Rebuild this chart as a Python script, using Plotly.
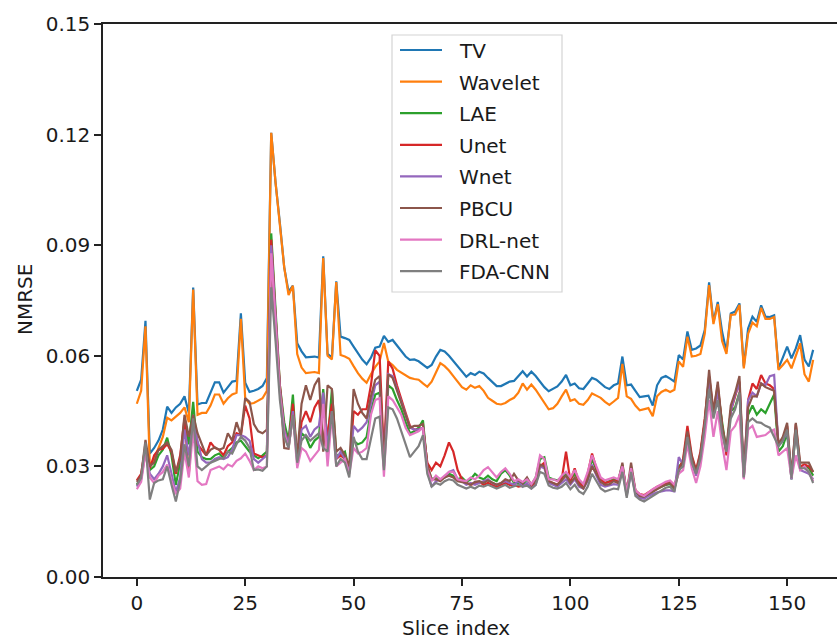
import plotly.graph_objects as go

slice_index = list(range(157))

tv = [0.0505,0.0535,0.0695,0.0335,0.035,0.037,0.040,0.0462,0.0445,0.046,
      0.047,0.049,0.0445,0.0785,0.0468,0.0472,0.0472,0.050,0.0528,0.0528,
      0.050,0.0515,0.053,0.0532,0.0715,0.0527,0.0502,0.0505,0.051,0.0518,
      0.054,0.1205,0.107,0.096,0.084,0.0774,0.079,0.0634,0.0612,0.0596,
      0.0598,0.0598,0.0595,0.087,0.0605,0.0595,0.0802,0.0652,0.0648,0.0643,
      0.0625,0.0607,0.059,0.0577,0.0595,0.0622,0.0625,0.0654,0.0638,0.0643,
      0.0628,0.0610,0.0598,0.0589,0.0590,0.0585,0.0575,0.0567,0.0575,0.0598,
      0.0616,0.0612,0.0600,0.0585,0.057,0.0555,0.0543,0.0553,0.0548,0.0557,
      0.0552,0.0540,0.0528,0.0518,0.0518,0.0525,0.0530,0.0532,0.0545,0.0558,
      0.0544,0.0557,0.0545,0.0530,0.0515,0.0504,0.0510,0.0517,0.0530,0.0548,
      0.0520,0.0525,0.0512,0.0510,0.0525,0.0540,0.0535,0.0525,0.0515,0.0510,
      0.0520,0.0525,0.0598,0.0520,0.0522,0.0505,0.0488,0.0490,0.0492,0.0465,
      0.0520,0.0540,0.0545,0.0538,0.0530,0.0602,0.0590,0.0666,0.0616,0.0620,
      0.0628,0.0670,0.0799,0.0692,0.0746,0.0665,0.0611,0.0715,0.0720,0.0742,
      0.0571,0.0674,0.0706,0.0692,0.0737,0.0706,0.0705,0.0710,0.0566,0.0595,
      0.0625,0.0593,0.0620,0.0656,0.0590,0.0571,0.0616]

wavelet = [0.047,0.0505,0.068,0.030,0.032,0.035,0.038,0.0432,0.0425,0.0435,
           0.0445,0.046,0.042,0.078,0.044,0.0445,0.0445,0.0465,0.0495,0.0495,
           0.047,0.0485,0.0495,0.050,0.070,0.0485,0.047,0.0472,0.0478,0.0485,
           0.0505,0.1205,0.107,0.096,0.084,0.0765,0.079,0.0605,0.0568,0.0553,
           0.0555,0.0556,0.0553,0.0865,0.0600,0.059,0.080,0.0602,0.0598,0.0592,
           0.0572,0.0553,0.0538,0.0527,0.055,0.057,0.0585,0.0635,0.0584,0.0575,
           0.0562,0.0555,0.0547,0.054,0.0537,0.0535,0.0525,0.0516,0.053,0.0555,
           0.058,0.0572,0.056,0.0545,0.053,0.0515,0.0508,0.052,0.0513,0.0518,
           0.0505,0.0486,0.0478,0.0470,0.0468,0.0472,0.0480,0.0486,0.0500,0.0525,
           0.0508,0.0522,0.0508,0.0490,0.0472,0.0455,0.0458,0.0470,0.0490,0.0508,
           0.0478,0.0482,0.0470,0.0467,0.0480,0.0498,0.0492,0.0486,0.0475,0.0467,
           0.0476,0.0486,0.0578,0.0490,0.0483,0.0465,0.0452,0.0455,0.0458,0.0436,
           0.0490,0.0502,0.0508,0.0502,0.0508,0.0585,0.0570,0.0652,0.0598,0.0600,
           0.0605,0.0660,0.0792,0.0686,0.0740,0.0640,0.0605,0.0711,0.0712,0.0738,
           0.0566,0.0660,0.0690,0.0680,0.0730,0.0700,0.0700,0.0705,0.0562,0.0575,
           0.0589,0.0566,0.0600,0.0634,0.0550,0.0530,0.0589]

lae = [0.0250,0.0272,0.0345,0.0290,0.0300,0.0330,0.0345,0.0378,0.0330,0.0250,
       0.0310,0.0420,0.0360,0.0475,0.0340,0.0325,0.0320,0.0320,0.0330,0.0335,
       0.0322,0.0340,0.0350,0.0365,0.0370,0.0355,0.0340,0.0330,0.0322,0.0330,
       0.0340,0.0932,0.0720,0.0520,0.0420,0.0370,0.0495,0.0310,0.0390,0.0380,
       0.0350,0.0370,0.0380,0.0510,0.0360,0.0510,0.0330,0.0330,0.0340,0.0290,
       0.0370,0.0360,0.0365,0.0380,0.0450,0.0495,0.0500,0.0300,0.0520,0.0510,
       0.0480,0.0455,0.0420,0.0390,0.0395,0.0405,0.0425,0.0300,0.0265,0.0270,
       0.0265,0.0270,0.0280,0.0275,0.0265,0.0270,0.0258,0.0265,0.0280,0.0270,
       0.0265,0.0275,0.0265,0.0260,0.0280,0.0290,0.0275,0.0255,0.0255,0.0250,
       0.0265,0.0250,0.0270,0.0320,0.0325,0.0270,0.0265,0.0262,0.0270,0.0280,
       0.0265,0.0280,0.0260,0.0250,0.0275,0.0320,0.0290,0.0265,0.0255,0.0260,
       0.0265,0.0260,0.0305,0.0225,0.0290,0.0230,0.0220,0.0215,0.0225,0.0232,
       0.0240,0.0245,0.0250,0.0252,0.0240,0.0300,0.0310,0.0390,0.0320,0.0280,
       0.0330,0.0420,0.0540,0.0440,0.0510,0.0420,0.0340,0.0450,0.0460,0.0500,
       0.0270,0.0440,0.0465,0.0440,0.0455,0.0445,0.0470,0.0495,0.0340,0.0355,
       0.0390,0.0265,0.0400,0.0295,0.0300,0.0295,0.0275]

unet = [0.0262,0.0280,0.0355,0.0295,0.0330,0.0345,0.0348,0.0360,0.0340,0.0280,
        0.0330,0.0430,0.0280,0.0430,0.0360,0.0345,0.0330,0.0365,0.0350,0.0345,
        0.0330,0.0355,0.0365,0.0390,0.0385,0.0465,0.0430,0.0335,0.0330,0.0325,
        0.0330,0.0915,0.0710,0.0520,0.0400,0.0360,0.0470,0.0320,0.0420,0.0450,
        0.0420,0.0460,0.0480,0.0370,0.0390,0.0470,0.0320,0.0330,0.0320,0.0290,
        0.0450,0.0440,0.0455,0.0455,0.0520,0.0615,0.0600,0.0330,0.0585,0.0565,
        0.0520,0.0480,0.0445,0.0410,0.0400,0.0400,0.0405,0.0310,0.0290,0.0310,
        0.0300,0.0330,0.0365,0.0340,0.0290,0.0265,0.0255,0.0250,0.0255,0.0258,
        0.0250,0.0255,0.0250,0.0245,0.0250,0.0255,0.0250,0.0250,0.0245,0.0248,
        0.0250,0.0245,0.0255,0.0300,0.0310,0.0260,0.0255,0.0250,0.0265,0.0340,
        0.0260,0.0295,0.0255,0.0245,0.0280,0.0335,0.0295,0.0265,0.0255,0.0258,
        0.0262,0.0258,0.0300,0.0230,0.0295,0.0235,0.0225,0.0222,0.0230,0.0238,
        0.0245,0.0250,0.0255,0.0258,0.0245,0.0290,0.0320,0.0410,0.0330,0.0290,
        0.0340,0.0430,0.0545,0.0450,0.0520,0.0410,0.0330,0.0450,0.0490,0.0530,
        0.0275,0.0480,0.0525,0.0510,0.0548,0.0525,0.0520,0.0510,0.0360,0.0375,
        0.0410,0.0270,0.0415,0.0300,0.0305,0.0300,0.0285]

wnet = [0.0245,0.0265,0.0340,0.0280,0.0265,0.0280,0.0300,0.0330,0.0280,0.0230,
        0.0270,0.0400,0.0330,0.0420,0.0370,0.0320,0.0310,0.0310,0.0320,0.0325,
        0.0320,0.0325,0.0345,0.0385,0.0385,0.0380,0.0370,0.0320,0.0310,0.0320,
        0.0330,0.0900,0.0700,0.0510,0.0400,0.0360,0.0450,0.0320,0.0400,0.0410,
        0.0380,0.0400,0.0410,0.0500,0.0350,0.0450,0.0320,0.0340,0.0320,0.0290,
        0.0410,0.0395,0.0405,0.0420,0.0470,0.0520,0.0530,0.0300,0.0550,0.0545,
        0.0510,0.0475,0.0440,0.0405,0.0400,0.0400,0.0405,0.0290,0.0245,0.0260,
        0.0265,0.0270,0.0285,0.0290,0.0265,0.0260,0.0250,0.0255,0.0250,0.0255,
        0.0260,0.0265,0.0255,0.0250,0.0255,0.0260,0.0255,0.0250,0.0260,0.0245,
        0.0255,0.0240,0.0250,0.0300,0.0295,0.0255,0.0250,0.0245,0.0255,0.0265,
        0.0250,0.0265,0.0245,0.0240,0.0260,0.0305,0.0275,0.0250,0.0245,0.0248,
        0.0252,0.0250,0.0290,0.0220,0.0285,0.0225,0.0215,0.0212,0.0220,0.0225,
        0.0230,0.0232,0.0235,0.0235,0.0232,0.0325,0.0305,0.0380,0.0310,0.0275,
        0.0320,0.0410,0.0530,0.0440,0.0505,0.0400,0.0340,0.0450,0.0495,0.0525,
        0.0270,0.0480,0.0500,0.0490,0.0525,0.0520,0.0545,0.0548,0.0355,0.0370,
        0.0395,0.0265,0.0405,0.0290,0.0285,0.0280,0.0265]

pbcu = [0.0258,0.0275,0.0372,0.0300,0.0310,0.0345,0.0355,0.0365,0.0345,0.0285,
        0.0320,0.0440,0.0380,0.0440,0.0390,0.0360,0.0330,0.0345,0.0352,0.0345,
        0.0350,0.0390,0.0370,0.0420,0.0385,0.0485,0.0475,0.0415,0.0395,0.0390,
        0.0400,0.0840,0.0680,0.0500,0.0350,0.0348,0.0440,0.0330,0.0470,0.0520,
        0.0480,0.0520,0.0540,0.0340,0.0520,0.0510,0.0340,0.0350,0.0330,0.0300,
        0.0510,0.0470,0.0445,0.0430,0.0490,0.0535,0.0545,0.0310,0.0550,0.0540,
        0.0505,0.0475,0.0440,0.0405,0.0410,0.0410,0.0415,0.0305,0.0265,0.0265,
        0.0260,0.0270,0.0275,0.0270,0.0260,0.0258,0.0255,0.0250,0.0258,0.0260,
        0.0255,0.0262,0.0255,0.0250,0.0255,0.0265,0.0260,0.0280,0.0262,0.0255,
        0.0270,0.0250,0.0262,0.0305,0.0300,0.0260,0.0255,0.0250,0.0262,0.0275,
        0.0255,0.0270,0.0250,0.0240,0.0265,0.0300,0.0280,0.0258,0.0250,0.0252,
        0.0260,0.0255,0.0310,0.0225,0.0310,0.0235,0.0220,0.0218,0.0225,0.0232,
        0.0240,0.0245,0.0250,0.0255,0.0240,0.0285,0.0315,0.0395,0.0325,0.0285,
        0.0335,0.0420,0.0562,0.0445,0.0530,0.0410,0.0350,0.0465,0.0500,0.0545,
        0.0280,0.0460,0.0490,0.0490,0.0525,0.0515,0.0510,0.0505,0.0360,0.0380,
        0.0418,0.0275,0.0418,0.0310,0.0310,0.0310,0.0285]

drl_net = [0.0238,0.0258,0.0335,0.0270,0.0255,0.0275,0.0285,0.0305,0.0260,0.0225,
           0.0240,0.0340,0.0270,0.0400,0.0260,0.0250,0.0252,0.0290,0.0295,0.0300,
           0.0292,0.0305,0.0300,0.0315,0.0322,0.0335,0.0315,0.0290,0.0300,0.0295,
           0.0300,0.0878,0.0690,0.0500,0.0390,0.0350,0.0440,0.0295,0.0350,0.0340,
           0.0315,0.0330,0.0345,0.0470,0.0300,0.0440,0.0300,0.0310,0.0320,0.0280,
           0.0350,0.0335,0.0340,0.0350,0.0440,0.0480,0.0485,0.0272,0.0490,0.0480,
           0.0460,0.0440,0.0405,0.0385,0.0390,0.0395,0.0405,0.0290,0.0260,0.0275,
           0.0265,0.0275,0.0285,0.0285,0.0265,0.0262,0.0260,0.0270,0.0265,0.0275,
           0.0290,0.0298,0.0285,0.0270,0.0285,0.0295,0.0280,0.0260,0.0265,0.0258,
           0.0265,0.0252,0.0270,0.0330,0.0320,0.0265,0.0265,0.0260,0.0275,0.0285,
           0.0270,0.0290,0.0265,0.0252,0.0285,0.0330,0.0300,0.0270,0.0262,0.0265,
           0.0270,0.0265,0.0300,0.0230,0.0295,0.0235,0.0225,0.0220,0.0230,0.0238,
           0.0245,0.0252,0.0258,0.0262,0.0250,0.0280,0.0290,0.0360,0.0295,0.0255,
           0.0300,0.0380,0.0480,0.0380,0.0450,0.0360,0.0290,0.0395,0.0410,0.0440,
           0.0265,0.0400,0.0410,0.0380,0.0382,0.0385,0.0395,0.0400,0.0330,0.0340,
           0.0350,0.0268,0.0330,0.0290,0.0300,0.0285,0.0260]

fda_cnn = [0.0250,0.0268,0.0365,0.0210,0.0255,0.0262,0.0265,0.0300,0.0250,0.0205,
           0.0260,0.0360,0.0300,0.0430,0.0300,0.0290,0.0300,0.0310,0.0315,0.0320,
           0.0322,0.0340,0.0335,0.0360,0.0380,0.0370,0.0350,0.0290,0.0292,0.0288,
           0.0300,0.0786,0.0640,0.0480,0.0380,0.0350,0.0440,0.0310,0.0370,0.0385,
           0.0370,0.0380,0.0390,0.0350,0.0340,0.0450,0.0300,0.0320,0.0310,0.0270,
           0.0380,0.0340,0.0320,0.0320,0.0380,0.0430,0.0435,0.0290,0.0460,0.0455,
           0.0430,0.0395,0.0355,0.0325,0.0340,0.0355,0.0385,0.0280,0.0245,0.0255,
           0.0250,0.0260,0.0265,0.0262,0.0250,0.0245,0.0240,0.0245,0.0240,0.0248,
           0.0245,0.0250,0.0245,0.0240,0.0245,0.0250,0.0242,0.0245,0.0250,0.0245,
           0.0248,0.0240,0.0250,0.0285,0.0280,0.0248,0.0242,0.0240,0.0245,0.0255,
           0.0238,0.0250,0.0232,0.0225,0.0245,0.0280,0.0260,0.0240,0.0232,0.0235,
           0.0240,0.0238,0.0285,0.0215,0.0285,0.0220,0.0210,0.0205,0.0212,0.0220,
           0.0228,0.0235,0.0242,0.0245,0.0232,0.0290,0.0300,0.0380,0.0310,0.0280,
           0.0320,0.0410,0.0510,0.0430,0.0480,0.0390,0.0340,0.0430,0.0455,0.0500,
           0.0270,0.0420,0.0430,0.0420,0.0418,0.0410,0.0405,0.0380,0.0355,0.0370,
           0.0400,0.0268,0.0400,0.0295,0.0295,0.0285,0.0255]

series_names = ["TV", "Wavelet", "LAE", "Unet", "Wnet", "PBCU", "DRL-net", "FDA-CNN"]
series_values = [tv, wavelet, lae, unet, wnet, pbcu, drl_net, fda_cnn]
colors = ["#1f77b4", "#ff7f0e", "#2ca02c", "#d62728", "#9467bd", "#8c564b", "#e377c2", "#7f7f7f"]

y_ticks = [0.0, 0.03, 0.06, 0.09, 0.12, 0.15]
x_ticks = [0, 25, 50, 75, 100, 125, 150]

FONT = "DejaVu Sans"
TXT = "#1a1a1a"

# plot-area geometry in pixels (for the hand-drawn legend box)
W, H = 837, 640
ML, MR, MT, MB = 103, 0, 24, 63
PW, PH = W - ML - MR, H - MT - MB


def px(xp):
    return (xp - ML) / PW


def py(yp):
    return (H - MB - yp) / PH


fig = go.Figure()
for name, vals, col in zip(series_names, series_values, colors):
    fig.add_trace(go.Scatter(x=slice_index, y=vals, mode="lines", name=name,
                             showlegend=False,
                             line=dict(color=col, width=2.2)))

shapes = [dict(type="rect", xref="paper", yref="paper",
               x0=px(392), x1=px(562), y0=py(292), y1=py(35),
               line=dict(color="#d4d4d4", width=1.2), fillcolor="rgba(255,255,255,0.9)",
               layer="above")]
annotations = []
for k, (name, col) in enumerate(zip(series_names, colors)):
    yc = 50 + 31.6 * k
    shapes.append(dict(type="line", xref="paper", yref="paper",
                       x0=px(400), x1=px(442), y0=py(yc), y1=py(yc),
                       line=dict(color=col, width=2.2), layer="above"))
    annotations.append(dict(text=name, xref="paper", yref="paper",
                            x=px(457), y=py(yc + 1), xanchor="left", yanchor="middle",
                            showarrow=False, font=dict(family=FONT, size=20, color=TXT)))

annotations += [
    dict(text="Slice index", xref="paper", yref="paper", x=px(456), y=py(628),
         xanchor="center", yanchor="middle", showarrow=False,
         font=dict(family=FONT, size=20, color=TXT)),
    dict(text="NMRSE", xref="paper", yref="paper", x=px(25), y=py(300),
         xanchor="center", yanchor="middle", textangle=-90, showarrow=False,
         font=dict(family=FONT, size=20, color=TXT)),
]

fig.update_layout(
    width=W, height=H,
    margin=dict(l=ML, r=MR, t=MT, b=MB),
    paper_bgcolor="white", plot_bgcolor="white",
    font=dict(family=FONT, size=20, color=TXT),
    showlegend=False,
    xaxis=dict(range=[-7.8, 161.5], tickvals=x_ticks, ticks="outside", ticklen=7,
               tickwidth=1.6, tickcolor="#222", showline=True, linecolor="#222",
               linewidth=1.6, mirror=True, showgrid=False, zeroline=False,
               tickfont=dict(family=FONT, size=20, color=TXT)),
    yaxis=dict(range=[0, 0.15], tickvals=y_ticks, tickformat=".2f", ticks="outside",
               ticklen=7, tickwidth=1.6, tickcolor="#222", showline=True,
               linecolor="#222", linewidth=1.6, mirror=False, showgrid=False,
               zeroline=False, tickfont=dict(family=FONT, size=20, color=TXT)),
    shapes=shapes,
    annotations=annotations,
)

fig.write_html("out.html")
